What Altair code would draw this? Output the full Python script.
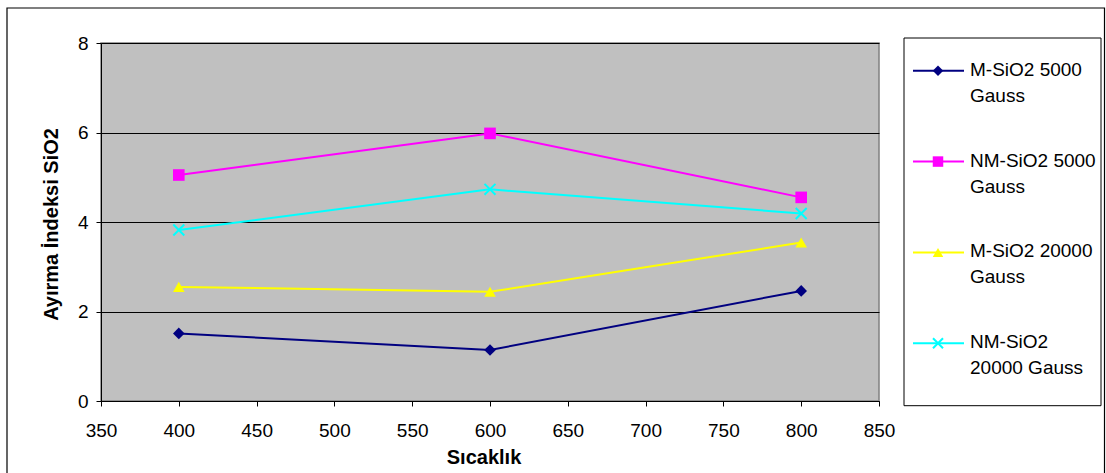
import altair as alt
import pandas as pd

# Measured separation index of SiO2 at three temperatures
temperatures = [400, 600, 800]
series = ["M-SiO2 5000 Gauss", "NM-SiO2 5000 Gauss", "M-SiO2 20000 Gauss", "NM-SiO2 20000 Gauss"]
m_5000 = [1.51, 1.14, 2.46]
nm_5000 = [5.05, 5.98, 4.55]
m_20000 = [2.55, 2.44, 3.54]
nm_20000 = [3.82, 4.73, 4.19]

legend_labels = ["M-SiO2 5000\nGauss", "NM-SiO2 5000\nGauss", "M-SiO2 20000\nGauss", "NM-SiO2\n20000 Gauss"]
colors = ["#000080", "#FF00FF", "#FFFF00", "#00FFFF"]
x_path = "M-1,-1L1,1M-1,1L1,-1"
shapes = ["diamond", "square", "triangle-up", x_path]

values = [m_5000, nm_5000, m_20000, nm_20000]
rows = []
for name, vals in zip(series, values):
    for t, v in zip(temperatures, vals):
        rows.append({"series": name, "temp": t, "value": v})
df = pd.DataFrame(rows)
legend_df = pd.DataFrame({"series": series, "label": legend_labels})

FONT = "Liberation Sans"
W, H = 778, 358

color = alt.Color("series:N", scale=alt.Scale(domain=series, range=colors), legend=None)
shape = alt.Shape("series:N", scale=alt.Scale(domain=series, range=shapes), legend=None)
x_enc = alt.X(
    "temp:Q",
    scale=alt.Scale(domain=[350, 850], nice=False, zero=False),
    axis=alt.Axis(
        values=list(range(350, 851, 50)), grid=False, title="Sıcaklık",
        titleX=382.5, titleY=62.3, titleBaseline="alphabetic", titleAlign="center",
        labelPadding=15, tickSize=5, labelFlush=False, labelOverlap=False,
    ),
)
y_enc = alt.Y(
    "value:Q",
    scale=alt.Scale(domain=[0, 8], nice=False),
    axis=alt.Axis(
        values=[0, 2, 4, 6, 8], grid=True, gridColor="#000000", gridWidth=1,
        title="Ayırma İndeksi SiO2", titleAngle=270, titleX=-43.7, titleY=181,
        titleAlign="center", titleBaseline="alphabetic", labelPadding=8, tickSize=5,
        labelFlush=False, labelOverlap=False,
    ),
)

base = alt.Chart(df)
lines = base.mark_line(strokeWidth=2).encode(
    x=x_enc, y=y_enc, color=color, detail="series:N",
)
filled_pts = base.transform_filter(alt.datum.series != series[3]).mark_point(
    filled=True, opacity=1, size=135
).encode(x=x_enc, y=y_enc, color=color, shape=shape)
cross_pts = base.transform_filter(alt.datum.series == series[3]).mark_point(
    filled=False, opacity=1, size=120, strokeWidth=2
).encode(x=x_enc, y=y_enc, color=color, shape=shape)
plot = alt.layer(lines, filled_pts, cross_pts)

# Legend panel
ly = alt.Y("series:N", scale=alt.Scale(type="point", domain=series, range=[27.7, 300.3], padding=0), axis=None)
frame_src = alt.Chart(alt.Data(values=[{"k": 1}]))
legend_box = frame_src.mark_rect(fill="white", stroke="#000000", strokeWidth=1).encode(
    x=alt.value(803), x2=alt.value(1000), y=alt.value(-5), y2=alt.value(362.7)
)
outer_box = frame_src.mark_rect(fill=None, stroke="#000000", strokeWidth=1.2).encode(
    x=alt.value(-94), x2=alt.value(1003.5), y=alt.value(-35), y2=alt.value(445)
)
lbase = alt.Chart(legend_df)
l_rules = lbase.mark_rule(strokeWidth=2).encode(
    x=alt.value(812), x2=alt.value(863), y=ly, color=color
)
l_filled = lbase.transform_filter(alt.datum.series != series[3]).mark_point(
    filled=True, opacity=1, size=110
).encode(x=alt.value(837), y=ly, color=color, shape=shape)
l_cross = lbase.transform_filter(alt.datum.series == series[3]).mark_point(
    filled=False, opacity=1, size=100, strokeWidth=2
).encode(x=alt.value(837), y=ly, color=color, shape=shape)
l_text = lbase.mark_text(
    align="left", baseline="alphabetic", dy=5, lineBreak="\n", lineHeight=26,
    font=FONT, fontSize=19, color="#000000",
).encode(x=alt.value(869), y=ly, text="label:N")
legend = alt.layer(legend_box, l_rules, l_filled, l_cross, l_text)

chart = (
    alt.layer(plot, legend, outer_box)
    .resolve_scale(y="independent")
    .properties(
        width=W, height=H,
        autosize=alt.AutoSizeParams(type="none"),
        padding={"left": 101, "top": 43, "right": 1106 - 101 - W, "bottom": 473 - 43 - H},
        background="white",
    )
    .configure_view(fill="#C0C0C0", stroke="#808080", strokeWidth=1.5)
    .configure_axis(
        labelFont=FONT, labelFontSize=19, labelColor="#000000",
        titleFont=FONT, titleFontSize=20, titleFontWeight="bold", titleColor="#000000",
        domainColor="#000000", tickColor="#000000", domainWidth=1, tickWidth=1,
    )
)

chart.save("out.html", embed_options={"renderer": "svg", "actions": False})
